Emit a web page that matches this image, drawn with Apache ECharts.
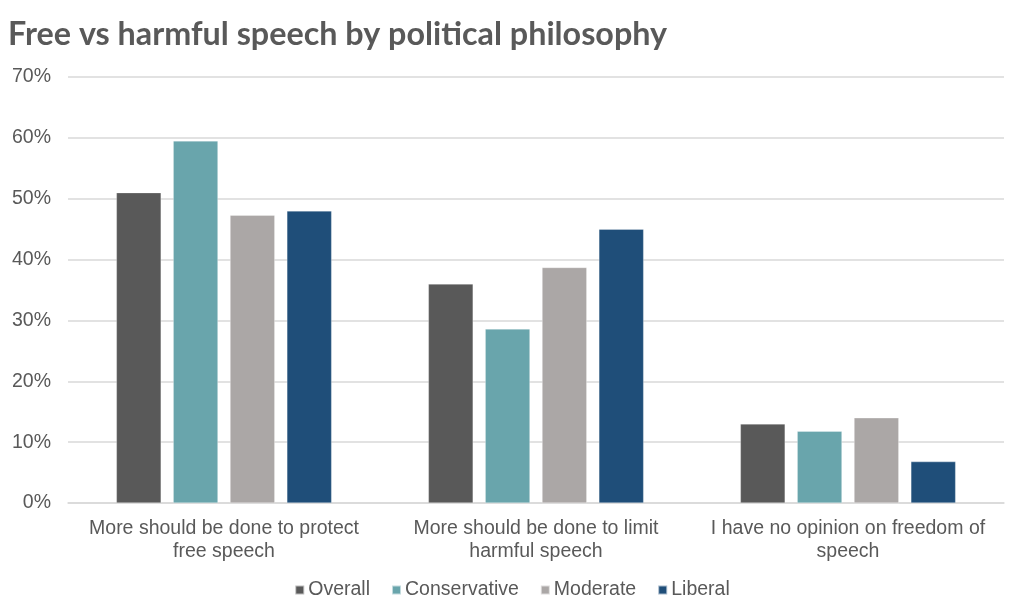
<!DOCTYPE html>
<html>
<head>
<meta charset="utf-8">
<script src="https://cdn.jsdelivr.net/npm/echarts@6/dist/echarts.min.js"></script>
<style>
    html, body { margin: 0; padding: 0; background: #fff; }
    #chart { width: 1024px; height: 615px; }
</style>
</head>
<body>
<div id="chart"></div>
<script>
var categories = [
    "More should be done to protect free speech",
    "More should be done to limit harmful speech",
    "I have no opinion on freedom of speech"
];
var seriesNames = ["Overall", "Conservative", "Moderate", "Liberal"];
var overall = [51, 36, 13];
var conservative = [59.5, 28.6, 11.8];
var moderate = [47.3, 38.7, 14];
var liberal = [48, 45, 6.8];

var colors = ['#595959', '#69a5ac', '#aba7a6', '#1f4e79'];
var values = [overall, conservative, moderate, liberal];

// break category names into lines of at most 31 characters
function wrapLabel(text) {
    var words = text.split(' ');
    var lines = [];
    var line = '';
    for (var i = 0; i < words.length; i++) {
        var next = line ? line + ' ' + words[i] : words[i];
        if (next.length > 31 && line) {
            lines.push(line);
            line = words[i];
        } else {
            line = next;
        }
    }
    lines.push(line);
    return lines.join('\n');
}

var dom = document.getElementById("chart");
var myChart = echarts.init(dom);

var series = [];
for (var i = 0; i < seriesNames.length; i++) {
    series.push({
        name: seriesNames[i],
        type: 'bar',
        data: values[i],
        barGap: '27%',
        barCategoryGap: '31%',
        itemStyle: {
            color: colors[i],
            borderColor: 'rgba(255,255,255,0.6)',
            borderWidth: 0.5
        }
    });
}

var option = {
    animation: false,
    title: {
        text: 'Free vs harmful speech by political philosophy',
        left: 3,
        top: 14,
        textStyle: {
            fontFamily: 'Lato',
            fontWeight: 'bold',
            fontSize: 32.3,
            color: '#595959'
        }
    },
    legend: {
        data: seriesNames,
        top: 575,
        left: 'center',
        icon: 'rect',
        itemWidth: 9,
        itemHeight: 9,
        itemGap: 21,
        textStyle: {
            fontFamily: 'Liberation Sans',
            fontSize: 19.5,
            color: '#595959',
            padding: [0, 0, 0, -1]
        }
    },
    grid: {
        left: 68,
        right: 20,
        top: 77,
        bottom: 112
    },
    xAxis: {
        type: 'category',
        data: categories,
        axisTick: { show: false },
        axisLine: { lineStyle: { color: '#d9d9d9', width: 1.5 } },
        axisLabel: {
            interval: 0,
            margin: 14,
            lineHeight: 23,
            formatter: wrapLabel,
            fontFamily: 'Liberation Sans',
            fontSize: 19.5,
            color: '#595959'
        }
    },
    yAxis: {
        type: 'value',
        min: 0,
        max: 70,
        interval: 10,
        axisLine: { show: false },
        axisTick: { show: false },
        splitLine: { lineStyle: { color: '#d9d9d9', width: 1.5 } },
        axisLabel: {
            formatter: '{value}%',
            margin: 17,
            fontFamily: 'Liberation Sans',
            fontSize: 19.5,
            color: '#595959'
        }
    },
    series: series
};

myChart.setOption(option, true);
</script>
</body>
</html>
